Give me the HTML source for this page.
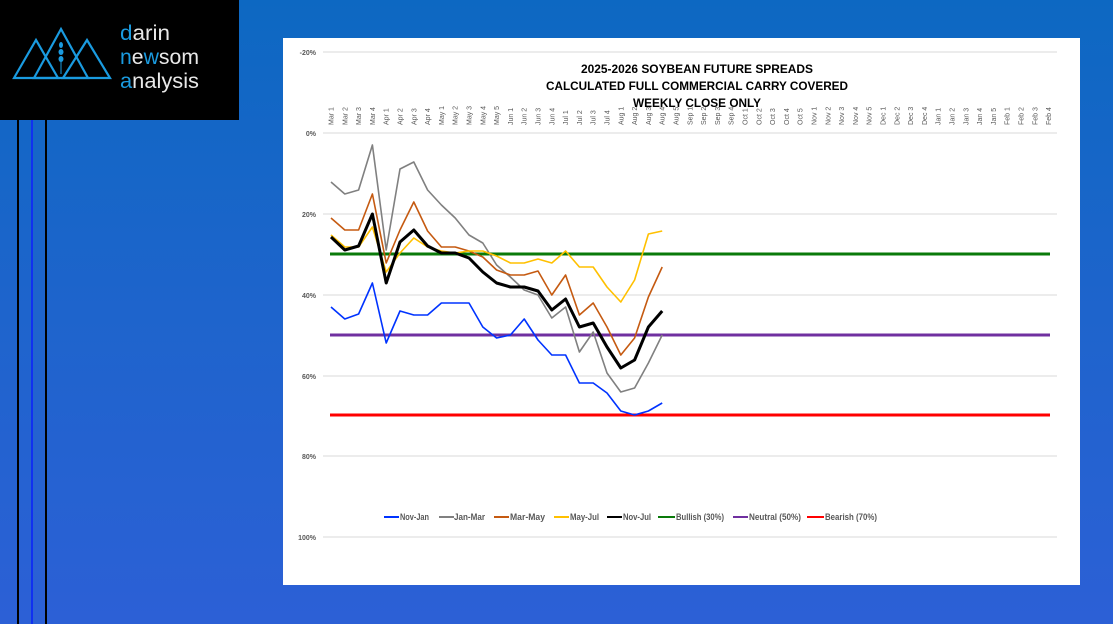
<!DOCTYPE html>
<html><head><meta charset="utf-8"><style>
html,body{margin:0;padding:0;}
body{width:1113px;height:624px;overflow:hidden;background:linear-gradient(180deg,#0d68c2 0%,#1e64cc 50%,#2c60d6 100%);position:relative;font-family:"Liberation Sans",sans-serif;}
</style></head><body>
<svg width="1113" height="624" style="position:absolute;left:0;top:0" font-family="Liberation Sans, sans-serif">
<rect x="0" y="0" width="239" height="120" fill="#000"/>
<g stroke="#1a9be0" stroke-width="2.2" fill="none">
<polygon points="14,78 36,40 58,78"/>
<polygon points="34,78 61,29 88,78"/>
<polygon points="63,78 87,40 110,78"/>
</g>
<g fill="#1a9be0"><ellipse cx="61" cy="45" rx="2" ry="3"/><ellipse cx="61" cy="52" rx="2.5" ry="3"/><ellipse cx="61" cy="59" rx="2.5" ry="3"/><rect x="60.5" y="60" width="1" height="14"/></g>
<text x="120" y="40" font-size="21" fill="#e8e8e8" textLength="50" lengthAdjust="spacingAndGlyphs"><tspan fill="#1a9be0">d</tspan>arin</text>
<text x="120" y="64" font-size="21" fill="#e8e8e8" textLength="79" lengthAdjust="spacingAndGlyphs"><tspan fill="#1a9be0">n</tspan>e<tspan fill="#1a9be0">w</tspan>som</text>
<text x="120" y="88" font-size="21" fill="#e8e8e8" textLength="79" lengthAdjust="spacingAndGlyphs"><tspan fill="#1a9be0">a</tspan>nalysis</text>
<rect x="17" y="120" width="2" height="504" fill="#000"/>
<rect x="31" y="120" width="2" height="504" fill="#1030f0"/>
<rect x="45" y="120" width="2" height="504" fill="#000"/>
<rect x="283" y="38" width="797" height="547" fill="#fff"/>
<g stroke="#d9d9d9" stroke-width="1">
<line x1="323" y1="52" x2="1057" y2="52"/><line x1="323" y1="133" x2="1057" y2="133"/><line x1="323" y1="214" x2="1057" y2="214"/><line x1="323" y1="295" x2="1057" y2="295"/><line x1="323" y1="376" x2="1057" y2="376"/><line x1="323" y1="456" x2="1057" y2="456"/><line x1="323" y1="537" x2="1057" y2="537"/>
</g>
<g font-size="7" fill="#595959" text-anchor="end" font-weight="bold">
<text x="316" y="55">-20%</text><text x="316" y="136">0%</text><text x="316" y="217">20%</text><text x="316" y="298">40%</text><text x="316" y="379">60%</text><text x="316" y="459">80%</text><text x="316" y="540">100%</text>
</g>
<g font-size="7" fill="#595959" id="xl"></g>
<g font-size="12" font-weight="bold" fill="#000" text-anchor="middle">
<text x="697" y="73" textLength="232" lengthAdjust="spacingAndGlyphs">2025-2026 SOYBEAN FUTURE SPREADS</text>
<text x="697" y="90" textLength="302" lengthAdjust="spacingAndGlyphs">CALCULATED FULL COMMERCIAL CARRY COVERED</text>
<text x="697" y="107" textLength="128" lengthAdjust="spacingAndGlyphs">WEEKLY CLOSE ONLY</text>
</g>
<line x1="330" y1="254" x2="1050" y2="254" stroke="#0a7a0a" stroke-width="3"/>
<line x1="330" y1="335" x2="1050" y2="335" stroke="#7030a0" stroke-width="3"/>
<line x1="330" y1="415" x2="1050" y2="415" stroke="#ff0000" stroke-width="3"/>
<g fill="none" stroke-linejoin="round" id="series"></g>
<g font-size="9" font-weight="bold" fill="#595959">
<line x1="384" y1="517" x2="399" y2="517" stroke="#0033ff" stroke-width="2"/><text x="400" y="520" textLength="29" lengthAdjust="spacingAndGlyphs">Nov-Jan</text>
<line x1="439" y1="517" x2="454" y2="517" stroke="#808080" stroke-width="2"/><text x="454" y="520" textLength="31" lengthAdjust="spacingAndGlyphs">Jan-Mar</text>
<line x1="494" y1="517" x2="509" y2="517" stroke="#c55a11" stroke-width="2"/><text x="510" y="520" textLength="35" lengthAdjust="spacingAndGlyphs">Mar-May</text>
<line x1="554" y1="517" x2="569" y2="517" stroke="#ffc000" stroke-width="2"/><text x="570" y="520" textLength="29" lengthAdjust="spacingAndGlyphs">May-Jul</text>
<line x1="607" y1="517" x2="622" y2="517" stroke="#000" stroke-width="2"/><text x="623" y="520" textLength="28" lengthAdjust="spacingAndGlyphs">Nov-Jul</text>
<line x1="658" y1="517" x2="675" y2="517" stroke="#0a7a0a" stroke-width="2"/><text x="676" y="520" textLength="48" lengthAdjust="spacingAndGlyphs">Bullish (30%)</text>
<line x1="733" y1="517" x2="748" y2="517" stroke="#7030a0" stroke-width="2"/><text x="749" y="520" textLength="52" lengthAdjust="spacingAndGlyphs">Neutral (50%)</text>
<line x1="807" y1="517" x2="824" y2="517" stroke="#ff0000" stroke-width="2"/><text x="825" y="520" textLength="52" lengthAdjust="spacingAndGlyphs">Bearish (70%)</text>
</g>
</svg>
<script>
var labs=[];[["Mar",4],["Apr",4],["May",5],["Jun",4],["Jul",4],["Aug",5],["Sep",4],["Oct",5],["Nov",5],["Dec",4],["Jan",5],["Feb",4]].forEach(function(m){for(var i=1;i<=m[1];i++)labs.push(m[0]+" "+i);});
var ns="http://www.w3.org/2000/svg",xl=document.getElementById("xl");
function X(i){return 331+13.8*i;}
labs.forEach(function(l,i){var t=document.createElementNS(ns,"text");t.setAttribute("transform","translate("+(X(i)+2.5)+",125) rotate(-90)");t.textContent=l;xl.appendChild(t);});
var S=[
["#808080",1.6,[182,194,190,145,250,169,162,190,205,218,235,243,265,277,290,295,318,307,352,332,373,392,388,363,335]],
["#c55a11",1.6,[218,230,230,194,263,230,202,231,247,247,251,257,270,275,275,271,295,275,315,303,327,355,338,297,267]],
["#ffc000",1.6,[235,247,247,227,272,253,238,247,251,253,251,251,256,263,263,259,263,251,267,267,287,302,280,234,231]],
["#0033ff",1.6,[307,319,314,283,343,311,315,315,303,303,303,327,338,335,319,340,355,355,383,383,393,411,415,411,403]],
["#000000",3,[237,250,246,214,283,242,230,246,253,253,258,272,283,287,287,291,310,299,327,323,347,368,360,327,311]]];
var g=document.getElementById("series");
S.forEach(function(s){var p=document.createElementNS(ns,"polyline");p.setAttribute("points",s[2].map(function(y,i){return X(i)+","+y;}).join(" "));p.setAttribute("stroke",s[0]);p.setAttribute("stroke-width",s[1]);g.appendChild(p);});
</script>
</body></html>
